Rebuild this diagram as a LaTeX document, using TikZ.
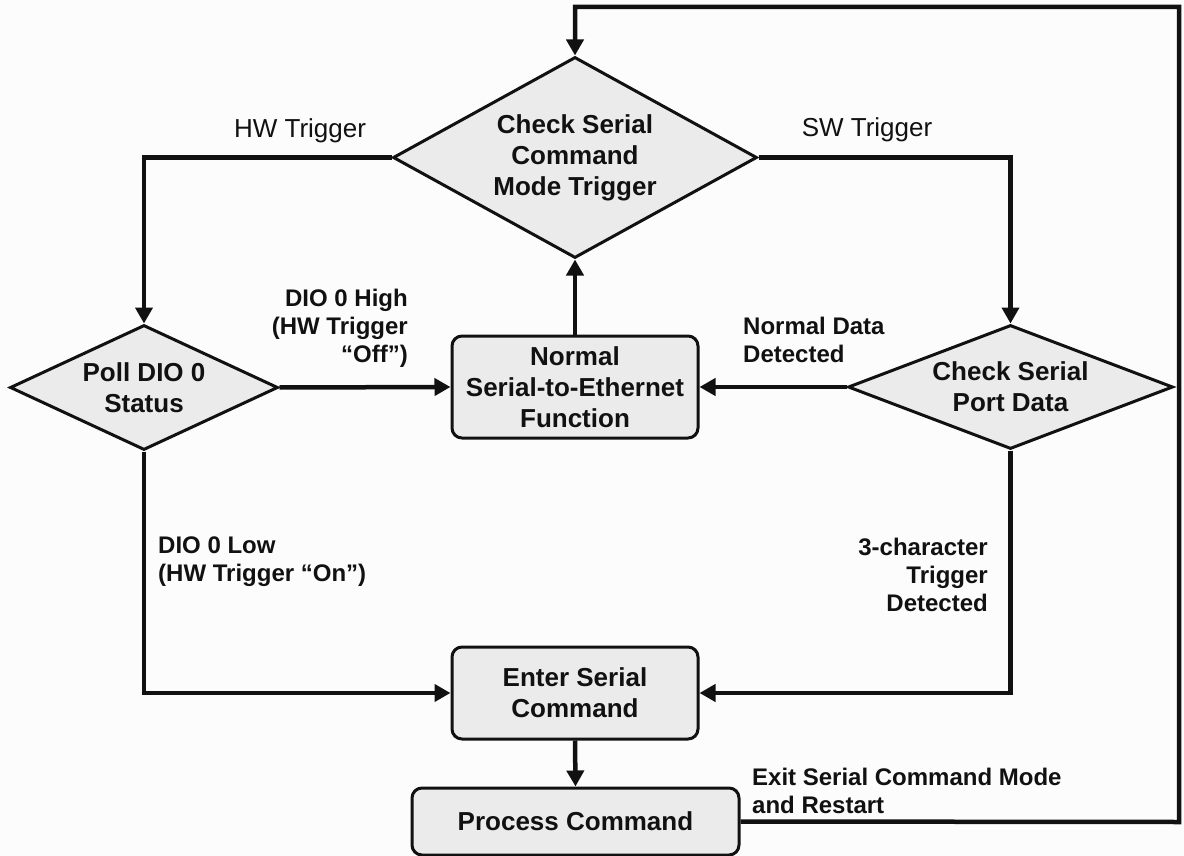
\documentclass[tikz,border=0pt]{standalone}
\usepackage{fontspec}
\setmainfont{Liberation Sans}
\usetikzlibrary{shapes.geometric,arrows.meta}
\definecolor{boxfill}{HTML}{EBEBEB}
\definecolor{bgcol}{HTML}{FCFCFC}
\definecolor{ink}{HTML}{111111}
\tikzset{
  dec/.style={diamond, draw=ink, line width=3pt, fill=boxfill, inner sep=0pt, align=center,
    font=\fontsize{26}{31}\selectfont\bfseries, text=ink},
  procbox/.style={rectangle, rounded corners=10pt, draw=ink, line width=3pt, fill=boxfill, inner sep=0pt, align=center,
    font=\fontsize{26}{31}\selectfont\bfseries, text=ink},
  conn/.style={draw=ink, line width=4.5pt, -{Triangle[length=16pt,width=17pt]}},
  lbl/.style={font=\fontsize{24}{28}\selectfont\bfseries, text=ink, inner sep=0pt},
  tlbl/.style={font=\fontsize{26}{31}\selectfont, text=ink, inner sep=0pt}
}
\begin{document}
\begin{tikzpicture}[x=1pt,y=-1pt]
\fill[bgcol] (0,0) rectangle (1184,856);
\useasboundingbox (0,0) rectangle (1184,856);

% nodes
\node[dec, minimum width=364pt, minimum height=201pt, shape aspect=1.81] (d1) at (575,157.5) {Check Serial\\Command\\Mode Trigger};
\node[dec, minimum width=268pt, minimum height=125pt, shape aspect=2.14] (poll) at (144,387.5) {Poll DIO 0\\Status};
\node[dec, minimum width=325pt, minimum height=124pt, shape aspect=2.62] (port) at (1010.5,387) {Check Serial\\Port Data};
\node[procbox, minimum width=246pt, minimum height=102pt] (normal) at (575,387) {Normal\\Serial-to-Ethernet\\Function};
\node[procbox, minimum width=246pt, minimum height=92pt] (enter) at (575,693) {Enter Serial\\Command};
\node[procbox, minimum width=327pt, minimum height=67pt] (proc) at (575.5,821.5) {Process Command};

\coordinate (c1) at (1179,822);
\coordinate (c2) at (1179,7);

% connectors
\draw[conn] (d1.west) -| (poll.north);
\draw[conn] (d1.east) -| (port.north);
\draw[conn] (normal.north) -- (d1.south);
\draw[conn] (poll.east) -- (normal.west);
\draw[conn] (port.west) -- (normal.east);
\draw[conn] (poll.south) |- (enter.west);
\draw[conn] (port.south) |- (enter.east);
\draw[conn] (enter.south) -- (proc.north);
\draw[conn] (proc.east) -- (c1) -- (c2) -| (d1.north);

% labels
\node[tlbl] (hw) at (300,131) {HW Trigger};
\node[tlbl] (sw) at (867,130) {SW Trigger};
\node[lbl, align=right, anchor=east] (high) at (408,328) {DIO 0 High\\(HW Trigger\\“Off”)};
\node[lbl, align=left, anchor=west] (nd) at (743,340) {Normal Data\\Detected};
\node[lbl, align=left, anchor=west] (low) at (158,562) {DIO 0 Low\\(HW Trigger “On”)};
\node[lbl, align=right, anchor=east] (three) at (988,575) {3-character\\Trigger\\Detected};
\node[lbl, align=left, anchor=west] (exit) at (752,791) {Exit Serial Command Mode\\and Restart};
\end{tikzpicture}
\end{document}
